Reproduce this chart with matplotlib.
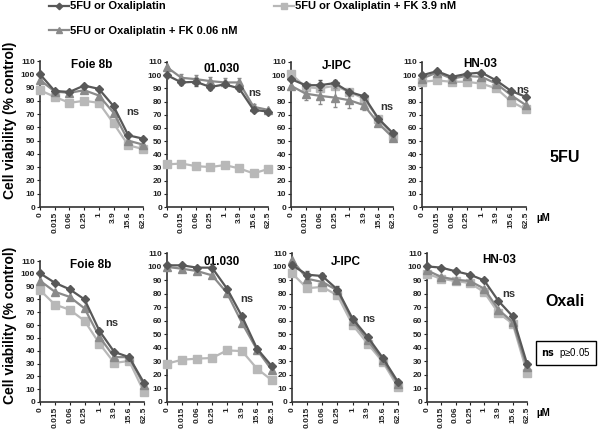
import matplotlib.pyplot as plt
from matplotlib.lines import Line2D
import numpy as np

plt.rcParams['font.family'] = ['Liberation Sans', 'DejaVu Sans']

conc_labels = ['0', '0.015', '0.06', '0.25', '1', '3.9', '15.6', '62.5']
cell_lines = ['Foie 8b', '01.030', 'J-IPC', 'HN-03']
series_names = ['5FU or Oxaliplatin',
                '5FU or Oxaliplatin + FK 0.06 nM',
                '5FU or Oxaliplatin + FK 3.9 nM']

# 5FU row: drug alone / + FK 0.06 nM / + FK 3.9 nM
fu_foie_alone = [100, 87.4, 86.7, 91.5, 89, 76, 54, 51.5]
fu_foie_fk006 = [95.7, 87, 86, 88, 84, 71, 50, 47]
fu_foie_fk39 = [88, 83, 78.5, 80, 78.5, 63, 46.5, 43.7]

fu_0130_alone = [100, 94.5, 95, 91, 93, 90, 73.7, 72.4]
fu_0130_fk006 = [106, 98, 97, 95.5, 94.5, 94.5, 76, 73.7]
fu_0130_fk39 = [32.3, 33, 31, 30.3, 31.8, 29.3, 25.5, 28.8]

fu_jipc_alone = [97, 92.4, 92.4, 94, 87.3, 84, 67, 56]
fu_jipc_fk006 = [92, 86, 84.3, 83, 81, 77.3, 63.4, 52.6]
fu_jipc_fk39 = [101, 91, 90, 92, 87.3, 82.3, 67, 54]

fu_hn03_alone = [99.9, 103, 98.7, 101, 102, 96, 88, 83.5]
fu_hn03_fk006 = [97.4, 102, 97.4, 99.4, 98.7, 93.6, 84.8, 77.2]
fu_hn03_fk39 = [95, 96, 95, 95, 93.6, 90, 80, 74]

# Oxaliplatin row
ox_foie_alone = [100.4, 93, 87.9, 80, 55.5, 39, 35, 14.9]
ox_foie_fk006 = [94.6, 86, 82, 73, 50.8, 35, 35, 13]
ox_foie_fk39 = [87.3, 76, 72, 63.3, 45.6, 30.5, 32, 7.8]

ox_0130_alone = [100.9, 100.9, 99.2, 99.2, 83.7, 63.2, 39.4, 26.3]
ox_0130_fk006 = [99.7, 98.4, 96.7, 93.5, 80.5, 58.3, 38.6, 23.4]
ox_0130_fk39 = [28.3, 31.2, 32, 32.5, 38.1, 37.6, 24.6, 16]

ox_jipc_alone = [101, 94, 93, 83, 61.5, 48, 32.5, 14.8]
ox_jipc_fk006 = [105, 91, 88.6, 82.4, 60, 45.5, 30.8, 13.5]
ox_jipc_fk39 = [95, 84, 85, 78.7, 57, 43, 29.5, 11]

ox_hn03_alone = [100.1, 99.2, 96.5, 94, 89.8, 74.6, 63.2, 28.3]
ox_hn03_fk006 = [97.2, 92.3, 90.3, 89.3, 83.7, 68.2, 59, 25.8]
ox_hn03_fk39 = [94.7, 91, 89.3, 87.8, 81.2, 65.7, 57.8, 21.7]

# visible error bars (only where they stand out)
err_fu_0130_alone = [0, 2, 3, 2, 2, 2, 2, 1]
err_fu_0130_fk006 = [0, 3, 3, 3, 3, 3, 2, 1]
err_fu_jipc_alone = [0, 2, 4, 2, 1, 1, 1, 1]
err_fu_jipc_fk006 = [0, 5, 6, 7, 6, 4, 2, 1]
err_ox_jipc_alone = [2, 3, 2, 3, 1, 1, 1, 1]

fu_data = [(fu_foie_alone, fu_foie_fk006, fu_foie_fk39),
           (fu_0130_alone, fu_0130_fk006, fu_0130_fk39),
           (fu_jipc_alone, fu_jipc_fk006, fu_jipc_fk39),
           (fu_hn03_alone, fu_hn03_fk006, fu_hn03_fk39)]
ox_data = [(ox_foie_alone, ox_foie_fk006, ox_foie_fk39),
           (ox_0130_alone, ox_0130_fk006, ox_0130_fk39),
           (ox_jipc_alone, ox_jipc_fk006, ox_jipc_fk39),
           (ox_hn03_alone, ox_hn03_fk006, ox_hn03_fk39)]
fu_err = {(1, 0): err_fu_0130_alone, (1, 1): err_fu_0130_fk006,
          (2, 0): err_fu_jipc_alone, (2, 1): err_fu_jipc_fk006}
ox_err = {(2, 0): err_ox_jipc_alone}

colors = ['#585858', '#8a8a8a', '#b8b8b8']
markers = ['D', '^', 's']
msizes = [3.8, 5.2, 5.2]

# axes boxes in pixels: (left, right, y of 0, y of 110)
fu_boxes = [(40, 143, 207, 61), (167, 268, 207, 62), (291, 393, 207, 62), (422, 526, 207, 62)]
ox_boxes = [(40, 144, 402, 261), (167, 272, 402, 253), (292, 398, 402, 253), (427, 527, 402, 253)]
fu_titles = [(0.5, 0.97), (0.54, 0.955), (0.45, 0.97), (0.56, 0.985)]
ox_titles = [(0.49, 0.97), (0.52, 0.94), (0.51, 0.94), (0.72, 0.95)]
fu_ns = [(6.3, 71.6), (6.1, 86.7), (6.6, 76), (6.8, 89)]
ox_ns = [(4.85, 61.6), (5.3, 76), (5.1, 61), (5.7, 80)]

W, H = 600, 437
fig = plt.figure(figsize=(6, 4.37), dpi=100)
x = np.arange(len(conc_labels))


def draw_panel(box, data, errs, title, tpos, nspos):
    l, r, y0, y1 = box
    ax = fig.add_axes([l / W, (H - y0) / H, (r - l) / W, (y0 - y1) / H])
    for k in (2, 1, 0):
        yerr = errs.get(k)
        ax.errorbar(x, data[k], yerr=yerr, color=colors[k], marker=markers[k],
                    ms=msizes[k], lw=1.6, elinewidth=0.9, capsize=1.5,
                    clip_on=False, zorder=3 + (2 - k))
    ax.set_xlim(0, 7)
    ax.set_ylim(0, 110)
    ax.set_yticks(range(0, 111, 10))
    ax.set_xticks(x)
    ax.set_xticklabels(conc_labels, rotation=90)
    ax.tick_params(labelsize=6, length=2, width=0.8, pad=1.5, colors='#222222')
    for lab in ax.get_xticklabels() + ax.get_yticklabels():
        lab.set_fontweight('bold')
    for s in ('top', 'right'):
        ax.spines[s].set_visible(False)
    for s in ('left', 'bottom'):
        ax.spines[s].set_color('#333333')
        ax.spines[s].set_linewidth(1.2)
    ax.text(tpos[0], tpos[1], title, transform=ax.transAxes, ha='center',
            va='center', fontsize=8.5, fontweight='bold')
    ax.text(nspos[0], nspos[1], 'ns', ha='center', va='center', fontsize=8,
            fontweight='bold', color='#333333')
    return ax


for i in range(4):
    errs = {k: v for (p, k), v in fu_err.items() if p == i}
    draw_panel(fu_boxes[i], fu_data[i], errs, cell_lines[i], fu_titles[i], fu_ns[i])
    errs = {k: v for (p, k), v in ox_err.items() if p == i}
    draw_panel(ox_boxes[i], ox_data[i], errs, cell_lines[i], ox_titles[i], ox_ns[i])

# y labels
fig.text(10 / W, 1 - 120 / H, 'Cell viability (% control)', rotation=90,
         ha='center', va='center', fontsize=10, fontweight='bold')
fig.text(10 / W, 1 - 325 / H, 'Cell viability (% control)', rotation=90,
         ha='center', va='center', fontsize=10, fontweight='bold')

# drug labels
fig.text(565 / W, 1 - 157 / H, '5FU', ha='center', va='center', fontsize=11.5, fontweight='bold')
fig.text(565 / W, 1 - 302 / H, 'Oxali', ha='center', va='center', fontsize=11.5, fontweight='bold')

# unit labels
fig.text(543 / W, 1 - 218 / H, 'µM', ha='center', va='center', fontsize=7, fontweight='bold')
fig.text(543 / W, 1 - 413 / H, 'µM', ha='center', va='center', fontsize=7, fontweight='bold')

# significance key
fig.text(566 / W, 1 - 353 / H, r'$\mathbf{ns}$  p≥0.05', ha='center', va='center', fontsize=7,
         bbox=dict(boxstyle='square,pad=0.55', fc='white', ec='black', lw=1))

# legend at top
handles = [Line2D([], [], color=colors[k], marker=markers[k], ms=msizes[k] - 0.5, lw=1.6)
           for k in range(3)]
leg = fig.legend([handles[0], handles[1], handles[2]],
                 [series_names[0], series_names[1], series_names[2]],
                 ncol=2, loc='upper left', bbox_to_anchor=(42 / W, 1.012),
                 frameon=False, handlelength=1.8, handletextpad=0.1,
                 columnspacing=3.3, labelspacing=1.3, borderpad=0.1,
                 prop={'weight': 'bold', 'size': 8})

fig.savefig('out.png', dpi=100)
